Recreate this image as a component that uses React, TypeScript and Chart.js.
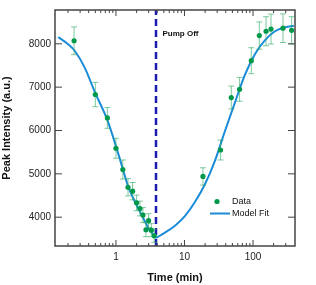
import React, { useEffect, useRef } from "react";
import { Chart, registerables } from "chart.js";

Chart.register(...registerables);

// ---- data ----
const dataTime = [0.245, 0.5, 0.75, 1.0, 1.26, 1.5, 1.75, 2.0, 2.24, 2.48, 2.74, 2.99, 3.28, 3.62, 18.6, 33.6, 48.2, 63.7, 94.4, 123.6, 155, 183, 274, 366];
const dataIntensity = [8070, 6830, 6290, 5590, 5100, 4690, 4600, 4330, 4200, 4050, 3710, 3920, 3700, 3570, 4940, 5550, 6760, 6950, 7610, 8190, 8290, 8340, 8360, 8310];
const dataError = [320, 280, 240, 230, 220, 200, 200, 180, 170, 170, 160, 160, 150, 150, 200, 230, 265, 275, 300, 315, 335, 345, 330, 315];

const fitDecayTime = [0.144, 0.2, 0.25, 0.35, 0.5, 0.75, 1.0, 1.25, 1.5, 2.0, 2.5, 3.0, 3.84];
const fitDecayIntensity = [8153, 7990, 7840, 7450, 6860, 6240, 5640, 5130, 4720, 4280, 3980, 3740, 3520];
const fitRecoveryTime = [3.84, 5.19, 7.27, 10.2, 14.2, 19.9, 27.9, 39.0, 54.6, 76.4, 107, 150, 209, 293, 395];
const fitRecoveryIntensity = [3520, 3642, 3802, 4030, 4349, 4759, 5305, 5989, 6649, 7287, 7765, 8084, 8289, 8380, 8418];

const pumpOffTime = 3.84;
const pumpOffLabel = "Pump Off";

const xMajorTicks = [1, 10, 100];
const xMinorTicks = [0.2, 0.3, 0.4, 0.5, 0.6, 0.7, 0.8, 0.9, 2, 3, 4, 5, 6, 7, 8, 9, 20, 30, 40, 50, 60, 70, 80, 90, 200, 300, 400];
const yTickValues = [4000, 5000, 6000, 7000, 8000];

const xMin = 0.129;
const xMax = 410;
const yMin = 3335;
const yMax = 8780;

const legendLabels = ["Data", "Model Fit"];
const xTitle = "Time (min)";
const yTitle = "Peak Intensity (a.u.)";

// ---- styles ----
const DATA_COLOR = "#00994a";
const ERR_COLOR = "rgba(45,170,100,0.62)";
const FIT_COLOR = "#1a8bd6";
const PUMP_COLOR = "#1c1cb0";
const FRAME_COLOR = "#444";
const FONT = "'Liberation Sans', Arial, Helvetica, sans-serif";

export default function App() {
  const ref = useRef<HTMLCanvasElement>(null);

  useEffect(() => {
    if (!ref.current) return;
    Chart.defaults.font.family = FONT;

    const decor = {
      id: "decor",
      beforeDatasetDraw(chart: any, args: any) {
        if (args.index !== 0) return;
        const xs = chart.scales.x;
        const ys = chart.scales.y;
        const ctx = chart.ctx;
        ctx.save();
        ctx.strokeStyle = ERR_COLOR;
        ctx.lineWidth = 1;
        for (let i = 0; i < dataTime.length; i++) {
          const px = xs.getPixelForValue(dataTime[i]);
          const t = ys.getPixelForValue(dataIntensity[i] + dataError[i]);
          const b = ys.getPixelForValue(dataIntensity[i] - dataError[i]);
          ctx.beginPath();
          ctx.moveTo(px, t);
          ctx.lineTo(px, b);
          ctx.moveTo(px - 3, t);
          ctx.lineTo(px + 3, t);
          ctx.moveTo(px - 3, b);
          ctx.lineTo(px + 3, b);
          ctx.stroke();
        }
        ctx.restore();
      },
      afterDraw(chart: any) {
        const { ctx, chartArea: a } = chart;
        const xs = chart.scales.x;
        const ys = chart.scales.y;
        ctx.save();
        // frame
        ctx.strokeStyle = FRAME_COLOR;
        ctx.lineWidth = 1.5;
        ctx.strokeRect(a.left, a.top, a.right - a.left, a.bottom - a.top);
        // inward ticks
        ctx.lineWidth = 1;
        ctx.beginPath();
        xs.ticks.forEach((tk: any) => {
          const px = xs.getPixelForValue(tk.value);
          if (px < a.left + 1 || px > a.right - 1) return;
          const len = tk.major ? 6 : 3;
          ctx.moveTo(px, a.bottom);
          ctx.lineTo(px, a.bottom - len);
          ctx.moveTo(px, a.top);
          ctx.lineTo(px, a.top + len);
        });
        ys.ticks.forEach((tk: any) => {
          const py = ys.getPixelForValue(tk.value);
          ctx.moveTo(a.left, py);
          ctx.lineTo(a.left + 7, py);
          ctx.moveTo(a.right, py);
          ctx.lineTo(a.right - 7, py);
        });
        ctx.stroke();

        // pump off label
        ctx.fillStyle = "#111";
        ctx.font = "bold 8px " + FONT;
        ctx.textBaseline = "middle";
        ctx.textAlign = "left";
        ctx.fillText(pumpOffLabel, xs.getPixelForValue(pumpOffTime) + 6.5, a.top + 24);

        // legend
        const lx = a.right - 78;
        const ly = a.bottom - 44.5;
        ctx.fillStyle = DATA_COLOR;
        ctx.beginPath();
        ctx.arc(lx, ly, 2.6, 0, Math.PI * 2);
        ctx.fill();
        ctx.strokeStyle = FIT_COLOR;
        ctx.lineWidth = 2;
        ctx.beginPath();
        ctx.moveTo(lx - 7, ly + 12);
        ctx.lineTo(lx + 13, ly + 12);
        ctx.stroke();
        ctx.fillStyle = "#111";
        ctx.font = "9px " + FONT;
        ctx.fillText(legendLabels[0], lx + 15, ly);
        ctx.fillText(legendLabels[1], lx + 15, ly + 12);
        ctx.restore();
      },
    };

    const chart = new Chart(ref.current, {
      type: "line",
      data: {
        datasets: [
          {
            label: legendLabels[0],
            data: dataTime.map((t, i) => ({ x: t, y: dataIntensity[i] })),
            showLine: false,
            pointRadius: 2.6,
            pointBackgroundColor: DATA_COLOR,
            pointBorderWidth: 0,
            borderColor: DATA_COLOR,
            order: 0,
          },
          {
            label: legendLabels[1],
            data: fitDecayTime.map((t, i) => ({ x: t, y: fitDecayIntensity[i] })),
            borderColor: FIT_COLOR,
            borderWidth: 2,
            pointRadius: 0,
            cubicInterpolationMode: "monotone",
            order: 1,
          },
          {
            label: legendLabels[1],
            data: fitRecoveryTime.map((t, i) => ({ x: t, y: fitRecoveryIntensity[i] })),
            borderColor: FIT_COLOR,
            borderWidth: 2,
            pointRadius: 0,
            cubicInterpolationMode: "monotone",
            order: 1,
          },
          {
            label: pumpOffLabel,
            data: [
              { x: pumpOffTime, y: yMin },
              { x: pumpOffTime, y: yMax },
            ],
            borderColor: PUMP_COLOR,
            borderWidth: 2.5,
            borderDash: [7, 4],
            pointRadius: 0,
            order: 2,
          },
        ],
      },
      options: {
        responsive: false,
        animation: false,
        events: [],
        layout: { padding: { left: 0, right: 21, top: 7, bottom: 0 } },
        plugins: { legend: { display: false }, tooltip: { enabled: false } },
        scales: {
          x: {
            type: "logarithmic",
            min: xMin,
            max: xMax,
            afterBuildTicks: (s: any) => {
              s.ticks = [...xMinorTicks, ...xMajorTicks]
                .sort((p, q) => p - q)
                .map((v) => ({ value: v, major: xMajorTicks.includes(v) }));
            },
            afterFit: (s: any) => {
              s.height = 39;
            },
            grid: { display: false, drawTicks: false },
            border: { display: false },
            ticks: {
              autoSkip: false,
              maxRotation: 0,
              minRotation: 0,
              padding: 5,
              color: "#222",
              font: { size: 10 },
              callback: (v: any) => (xMajorTicks.includes(Number(v)) ? String(v) : ""),
            },
            title: {
              display: true,
              text: xTitle,
              color: "#111",
              font: { size: 11, weight: "bold" },
              padding: 0,
            },
          },
          y: {
            type: "linear",
            min: yMin,
            max: yMax,
            afterBuildTicks: (s: any) => {
              s.ticks = yTickValues.map((v) => ({ value: v }));
            },
            afterFit: (s: any) => {
              s.width = 55;
            },
            grid: { display: false, drawTicks: false },
            border: { display: false },
            ticks: {
              padding: 4,
              color: "#222",
              font: { size: 10 },
              callback: (v: any) => String(v),
            },
            title: {
              display: true,
              text: yTitle,
              color: "#111",
              font: { size: 11, weight: "bold" },
              padding: 0,
            },
          },
        },
      },
      plugins: [decor],
    } as any);

    return () => chart.destroy();
  }, []);

  return (
    <div style={{ position: "fixed", left: 0, top: 0, width: 316, height: 285, background: "#fff" }}>
      <canvas ref={ref} width={316} height={285} style={{ display: "block" }} />
    </div>
  );
}
